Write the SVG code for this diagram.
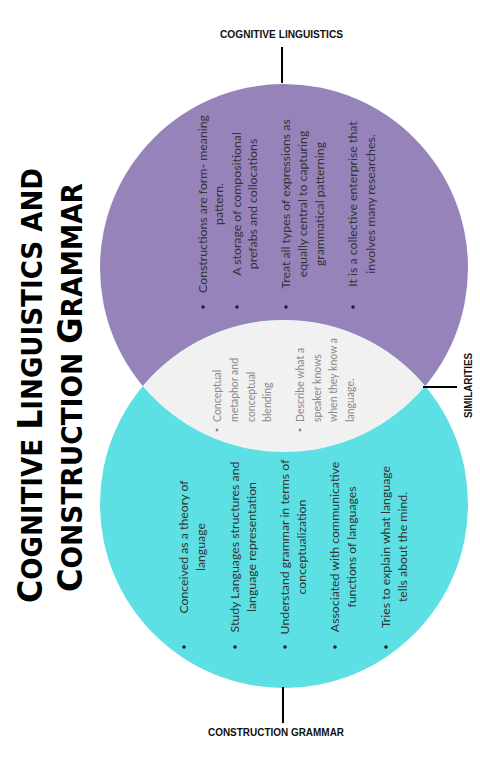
<svg xmlns="http://www.w3.org/2000/svg" width="480" height="766" viewBox="0 0 480 766">
<style>
.title{font-family:"DejaVu Sans Condensed","DejaVu Sans",sans-serif;font-weight:bold;fill:#000}
.lbl{font-family:"Liberation Sans",Arial,sans-serif;font-weight:bold;font-size:10px;fill:#111}
.t{font-family:Lato,"Open Sans",sans-serif;font-size:12.3px;fill:#333;text-anchor:middle}
.s{font-family:Lato,"Open Sans",sans-serif;font-size:10.5px;fill:#8a8a8a}
.lead{stroke:#000;stroke-width:2;fill:none}
.b{fill:#222}
.bs{fill:#888}
</style>
<rect width="480" height="766" fill="#fff"/>
<g id="title">
<text class="title" transform="translate(42,603) rotate(-90)" textLength="435" lengthAdjust="spacingAndGlyphs"><tspan font-size="34">C</tspan><tspan font-size="28">OGNITIVE </tspan><tspan font-size="34">L</tspan><tspan font-size="28">INGUISTICS AND</tspan></text>
<text class="title" transform="translate(82,592) rotate(-90)" textLength="409" lengthAdjust="spacingAndGlyphs"><tspan font-size="34">C</tspan><tspan font-size="28">ONSTRUCTION </tspan><tspan font-size="34">G</tspan><tspan font-size="28">RAMMAR</tspan></text>
</g>
<g id="cognitive-linguistics">
<circle cx="284" cy="268" r="184" fill="#9683BA"/>
<circle class="b" cx="203" cy="307" r="1.8"/>
<circle class="b" cx="237" cy="307" r="1.8"/>
<circle class="b" cx="286" cy="307" r="1.8"/>
<circle class="b" cx="353" cy="307" r="1.8"/>
<text class="t" transform="translate(207,204) rotate(-90)">Constructions are form- meaning</text>
<text class="t" transform="translate(223,204) rotate(-90)">pattern.</text>
<text class="t" transform="translate(241,204) rotate(-90)">A storage of compositional</text>
<text class="t" transform="translate(257,204) rotate(-90)">prefabs and collocations</text>
<text class="t" transform="translate(290,204) rotate(-90)">Treat all types of expressions as</text>
<text class="t" transform="translate(307,204) rotate(-90)">equally central to capturing</text>
<text class="t" transform="translate(324,204) rotate(-90)">grammatical patterning</text>
<text class="t" transform="translate(357,204) rotate(-90)">It is a collective enterprise that</text>
<text class="t" transform="translate(375,204) rotate(-90)">involves many researches.</text>
</g>
<g id="construction-grammar">
<circle cx="284" cy="504" r="184" fill="#5CE0E4"/>
<circle class="b" cx="184" cy="647" r="1.8"/>
<circle class="b" cx="235" cy="647" r="1.8"/>
<circle class="b" cx="285" cy="647" r="1.8"/>
<circle class="b" cx="335" cy="647" r="1.8"/>
<circle class="b" cx="386" cy="647" r="1.8"/>
<text class="t" transform="translate(188,547) rotate(-90)">Conceived as a theory of</text>
<text class="t" transform="translate(205,547) rotate(-90)">language</text>
<text class="t" transform="translate(239,547) rotate(-90)">Study Languages structures and</text>
<text class="t" transform="translate(256,547) rotate(-90)">language representation</text>
<text class="t" transform="translate(289,547) rotate(-90)">Understand grammar in terms of</text>
<text class="t" transform="translate(306,547) rotate(-90)">conceptualization</text>
<text class="t" transform="translate(339,547) rotate(-90)">Associated with communicative</text>
<text class="t" transform="translate(356,547) rotate(-90)">functions of languages</text>
<text class="t" transform="translate(390,547) rotate(-90)">Tries to explain what language</text>
<text class="t" transform="translate(407,547) rotate(-90)">tells about the mind.</text>
</g>
<g id="similarities">
<path d="M 142.8 386 A 184 184 0 0 1 425.2 386 A 184 184 0 0 1 142.8 386 Z" fill="#F1F1F1"/>
<circle class="bs" cx="217" cy="430" r="1.4"/>
<circle class="bs" cx="300" cy="430" r="1.4"/>
<text class="s" transform="translate(220.5,422) rotate(-90)">Conceptual</text>
<text class="s" transform="translate(237.5,422) rotate(-90)">metaphor and</text>
<text class="s" transform="translate(254.5,422) rotate(-90)">conceptual</text>
<text class="s" transform="translate(270.5,422) rotate(-90)">blending</text>
<text class="s" transform="translate(303.5,422) rotate(-90)">Describe what a</text>
<text class="s" transform="translate(320.5,422) rotate(-90)">speaker knows</text>
<text class="s" transform="translate(336.5,422) rotate(-90)">when they know a</text>
<text class="s" transform="translate(353.5,422) rotate(-90)">language.</text>
</g>
<g id="connectors">
<line class="lead" x1="282" y1="47" x2="282" y2="83"/>
<line class="lead" x1="283" y1="687" x2="283" y2="723"/>
<line class="lead" x1="423" y1="387" x2="457" y2="387"/>
</g>
<g id="labels">
<text class="lbl" x="281.5" y="37.5" text-anchor="middle" textLength="123" lengthAdjust="spacingAndGlyphs">COGNITIVE LINGUISTICS</text>
<text class="lbl" x="276" y="736" text-anchor="middle" textLength="136" lengthAdjust="spacingAndGlyphs">CONSTRUCTION GRAMMAR</text>
<text class="lbl" transform="translate(472,385.5) rotate(-90)" text-anchor="middle" textLength="65" lengthAdjust="spacingAndGlyphs">SIMILARITIES</text>
</g>
</svg>
